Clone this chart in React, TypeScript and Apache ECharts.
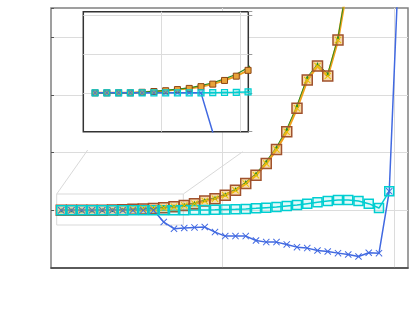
import React, { useEffect, useRef } from "react";
import * as echarts from "echarts";

const xValues = [1, 2, 3, 4, 5, 6, 7, 8, 9, 10, 11, 12, 13, 14, 15, 16, 17, 18, 19, 20, 21, 22, 23, 24, 25, 26, 27, 28, 29, 30, 31, 32, 33, 34];

const blueValues = [0, 0, 0, 0, 0, 0, 0, 0, 0, 0, -0.203, -0.319, -0.307, -0.296, -0.29, -0.377, -0.447, -0.447, -0.447, -0.522, -0.551, -0.551, -0.591, -0.638, -0.655, -0.696, -0.713, -0.742, -0.765, -0.8, -0.736, -0.742, 0.33, 4.6];

const cyanValues = [0, 0, 0, 0, 0, 0, 0, 0, 0, 0, 0.001, 0.002, 0.003, 0.005, 0.007, 0.009, 0.014, 0.018, 0.024, 0.035, 0.047, 0.058, 0.075, 0.092, 0.116, 0.139, 0.162, 0.179, 0.179, 0.162, 0.116, 0.04, 0.33];

const orangeValues = [0, 0, 0, 0, 0.003, 0.007, 0.011, 0.017, 0.023, 0.032, 0.045, 0.064, 0.086, 0.116, 0.162, 0.203, 0.261, 0.348, 0.464, 0.609, 0.812, 1.056, 1.362, 1.769, 2.261, 2.504, 2.33, 2.957, 4.0];

const greenValues = [0, 0, 0, 0, 0.004, 0.008, 0.013, 0.019, 0.026, 0.037, 0.052, 0.072, 0.096, 0.13, 0.18, 0.22, 0.28, 0.37, 0.49, 0.64, 0.85, 1.1, 1.41, 1.82, 2.31, 2.54, 2.37, 3.0, 4.05];

const pairs = (ys: number[]) => ys.map((y, i) => [xValues[i], y]);

const X_SYMBOL = "path://M1,0L5,4L9,0L10,1L6,5L10,9L9,10L5,6L1,10L0,9L4,5L0,1Z";

const BLUE = "#4169E1";
const CYAN = "#00CED1";
const ORANGE = "#F0A21E";
const BROWN = "#A0522D";
const GREEN = "#2E8B22";
const GOLD = "#E9C400";

function buildSeries(grid: number) {
  const main = grid === 0;
  const z = main ? 2 : 12;
  return [
    {
      type: "line",
      xAxisIndex: grid,
      yAxisIndex: grid,
      z,
      data: pairs(orangeValues),
      lineStyle: { color: ORANGE, width: main ? 2.5 : 2 },
      symbol: "rect",
      symbolSize: main ? 10 : 6,
      itemStyle: main
        ? { color: "rgba(240,170,70,0.45)", borderColor: BROWN, borderWidth: 1.5 }
        : { color: "#E8A33A", borderColor: "#8B4513", borderWidth: 1 },
    },
    {
      type: "line",
      xAxisIndex: grid,
      yAxisIndex: grid,
      z,
      data: pairs(cyanValues),
      lineStyle: { color: CYAN, width: 1.5 },
      symbol: "rect",
      symbolSize: main ? 9 : 6,
      itemStyle: main
        ? { color: "rgba(0,206,209,0.12)", borderColor: CYAN, borderWidth: 1.5 }
        : { color: "rgba(0,206,209,0.35)", borderColor: CYAN, borderWidth: 1.2 },
    },
    {
      type: "line",
      xAxisIndex: grid,
      yAxisIndex: grid,
      z,
      data: pairs(greenValues),
      lineStyle: { color: GREEN, width: main ? 1 : 1.2 },
      symbol: main ? "triangle" : "none",
      symbolSize: 4,
      itemStyle: { color: GREEN },
    },
    ...(main
      ? [
          {
            type: "line",
            xAxisIndex: grid,
            yAxisIndex: grid,
            z,
            data: pairs(orangeValues),
            lineStyle: { opacity: 0, width: 0 },
            symbol: X_SYMBOL,
            symbolSize: 7,
            itemStyle: { color: GOLD },
          },
        ]
      : []),
    {
      type: "line",
      xAxisIndex: grid,
      yAxisIndex: grid,
      z,
      data: pairs(blueValues),
      lineStyle: { color: BLUE, width: 1.5 },
      symbol: X_SYMBOL,
      symbolSize: main ? 7 : 5,
      itemStyle: { color: BLUE },
    },
  ];
}

export default function App() {
  const ref = useRef<HTMLDivElement>(null);
  useEffect(() => {
    if (!ref.current) return;
    const chart = echarts.init(ref.current, null, { renderer: "svg" });
    const boxStroke = { stroke: "#d9d9d9", lineWidth: 1, fill: "none" };
    chart.setOption({
      animation: false,
      backgroundColor: "#fff",
      grid: [
        { left: 51, top: 8, width: 357, height: 260, show: true, borderColor: "#808080", borderWidth: 1.5, backgroundColor: "#fff", z: 0 },
        { left: 83.3, top: 11.7, width: 165, height: 120, show: true, borderColor: "#333", borderWidth: 1.5, backgroundColor: "#fff", z: 10 },
      ],
      xAxis: [
        {
          gridIndex: 0, type: "value", min: 0, max: 34.83, interval: 16.75,
          axisLine: { show: true, onZero: false, lineStyle: { color: "#444", width: 1.5 } },
          axisTick: { show: false }, axisLabel: { show: false },
          splitLine: { show: true, showMinLine: false, showMaxLine: false, lineStyle: { color: "#dcdcdc", width: 1 } },
        },
        {
          gridIndex: 1, type: "value", min: 0, max: 14.02, interval: 6.65, z: 10,
          axisLine: { show: false, onZero: false }, axisTick: { show: false }, axisLabel: { show: false },
          splitLine: { show: true, showMinLine: false, showMaxLine: false, lineStyle: { color: "#dcdcdc", width: 1 } },
        },
      ],
      yAxis: [
        {
          gridIndex: 0, type: "value", min: -1, max: 3.51, interval: 1,
          axisLine: { show: false, onZero: false },
          axisTick: { show: true, inside: true, length: 3, lineStyle: { color: "#555" } },
          axisLabel: { show: false },
          splitLine: { show: true, showMinLine: false, showMaxLine: false, lineStyle: { color: "#dcdcdc", width: 1 } },
        },
        {
          gridIndex: 1, type: "value", min: -0.2, max: 0.418, interval: 0.2, position: "right", z: 10,
          axisLine: { show: false, onZero: false },
          axisTick: { show: true, length: 4, lineStyle: { color: "#999" } },
          axisLabel: { show: false },
          splitLine: { show: true, showMinLine: false, showMaxLine: false, lineStyle: { color: "#dcdcdc", width: 1 } },
        },
      ],
      graphic: [
        { type: "rect", z: 1, silent: true, shape: { x: 56.7, y: 194, width: 126.6, height: 31 }, style: boxStroke },
        { type: "line", z: 1, silent: true, shape: { x1: 56.7, y1: 194, x2: 87.7, y2: 150 }, style: boxStroke },
        { type: "line", z: 1, silent: true, shape: { x1: 183.3, y1: 194, x2: 242.7, y2: 151.7 }, style: boxStroke },
      ],
      series: [...buildSeries(0), ...buildSeries(1)],
    });
    return () => chart.dispose();
  }, []);
  return (
    <div
      ref={ref}
      style={{ position: "absolute", left: 0, top: 0, width: 415, height: 317 }}
    />
  );
}
